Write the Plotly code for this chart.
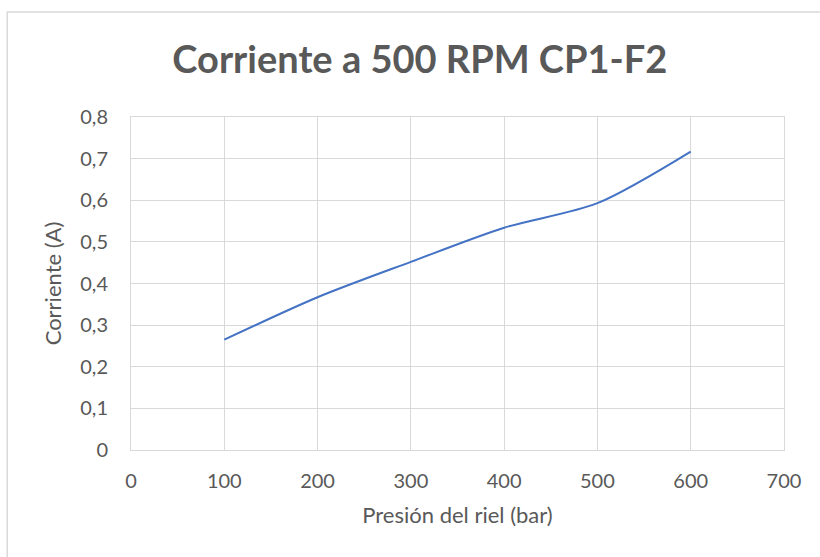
import plotly.graph_objects as go

# Rail pressure (bar) and measured current (A) at 500 RPM
presion_bar = [100, 200, 300, 400, 500, 600]
corriente_a = [0.265, 0.367, 0.452, 0.534, 0.593, 0.717]

titulo = "Corriente a 500 RPM CP1-F2"
titulo_x = "Presión del riel (bar)"
titulo_y = "Corriente (A)"

gris_texto = "#595959"
gris_rejilla = "#d9d9d9"
azul = "#4472C4"
fuente = "Lato"

fig = go.Figure()
fig.add_trace(go.Scatter(
    x=presion_bar,
    y=corriente_a,
    mode="lines",
    line=dict(color=azul, width=2, shape="spline", smoothing=0.8),
    showlegend=False,
    hoverinfo="x+y",
))

axis_common = dict(
    showgrid=True,
    gridcolor=gris_rejilla,
    gridwidth=1,
    zeroline=False,
    showline=True,
    linecolor=gris_rejilla,
    linewidth=1,
    mirror=True,
    ticks="",
    tickfont=dict(family=fuente, size=20, color=gris_texto),
)

fig.update_xaxes(
    range=[0, 700], dtick=100, tick0=0,
    title=dict(text=titulo_x, font=dict(family=fuente, size=22, color=gris_texto), standoff=16),
    ticklabelstandoff=13,
    **axis_common,
)
fig.update_yaxes(
    range=[0, 0.8], dtick=0.1, tick0=0,
    title=dict(text=titulo_y, font=dict(family=fuente, size=22, color=gris_texto), standoff=12),
    ticklabelstandoff=18,
    **axis_common,
)

# Outer chart frame (only the left and top edges fall inside the canvas)
fig.add_shape(
    type="rect", xref="paper", yref="paper",
    x0=-0.1895, x1=1.2, y0=-0.5, y1=1.3153,
    line=dict(color=gris_rejilla, width=1.5),
    fillcolor="rgba(0,0,0,0)", layer="below",
)

fig.update_layout(
    width=820,
    height=557,
    margin=dict(l=131, r=36, t=117, b=107),
    paper_bgcolor="white",
    plot_bgcolor="white",
    separators=",.",
    title=dict(
        text=f"<b>{titulo}</b>",
        x=0.512, xanchor="center",
        y=0.893, yanchor="middle",
        font=dict(family=fuente, size=38, color=gris_texto),
    ),
    font=dict(family=fuente, color=gris_texto),
)

fig.write_html("out.html")
